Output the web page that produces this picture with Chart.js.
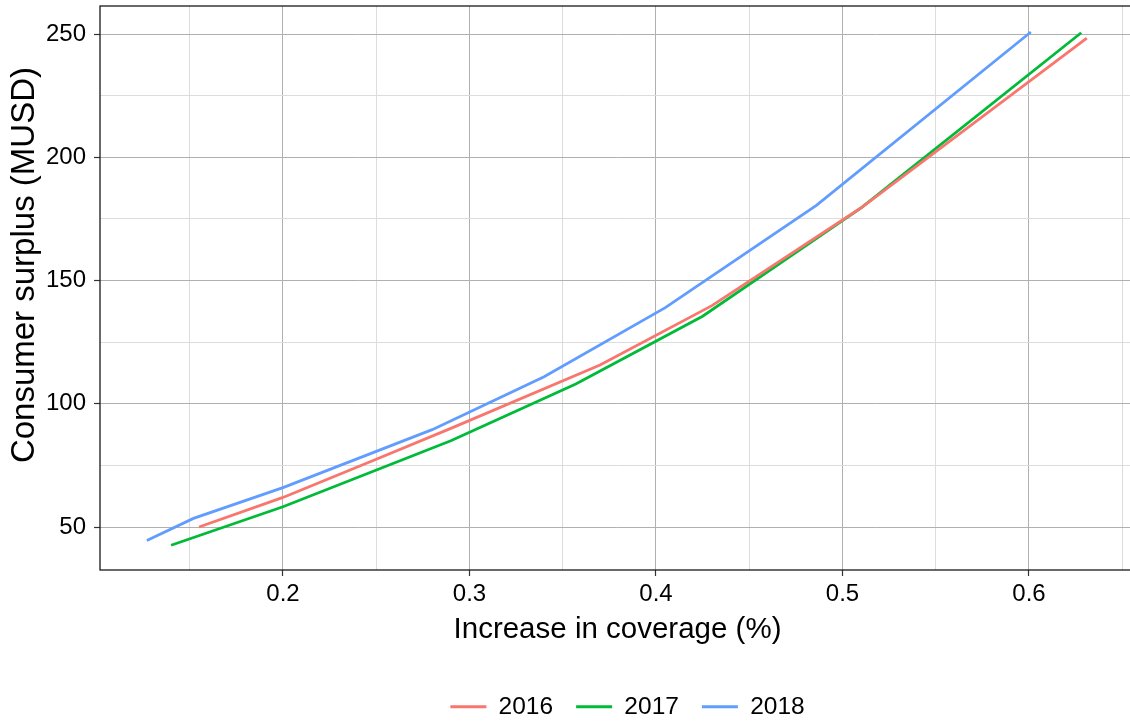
<!DOCTYPE html>
<html>
<head>
<meta charset="utf-8">
<script src="https://cdn.jsdelivr.net/npm/chart.js@4.4.1/dist/chart.umd.min.js"></script>
<style>
  html, body { margin: 0; padding: 0; background: #fff; overflow: hidden; }
  canvas { display: block; }
</style>
</head>
<body>
<canvas id="chart" width="1255" height="729" style="width:1255px;height:729px"></canvas>
<script>
  // ---- data ----
  const YEARS = ['2016', '2017', '2018'];
  const COLORS = ['#F8766D', '#00BA38', '#619CFF'];

  const X_2016 = [0.155, 0.2, 0.25, 0.29, 0.37, 0.43, 0.51, 0.631];
  const Y_2016 = [50, 62, 77.5, 90, 115.7, 139.8, 179.5, 248.3];

  const X_2017 = [0.14, 0.2, 0.29, 0.357, 0.425, 0.51, 0.628];
  const Y_2017 = [42.6, 58.2, 85, 108, 135.5, 179.5, 250.5];

  const X_2018 = [0.127, 0.152, 0.2, 0.28, 0.34, 0.405, 0.486, 0.601];
  const Y_2018 = [44.5, 53.5, 66, 89.5, 111, 139, 180.5, 250.8];

  const X_MAJOR = [0.2, 0.3, 0.4, 0.5, 0.6];
  const X_MINOR = [0.15, 0.25, 0.35, 0.45, 0.55, 0.65];
  const Y_MAJOR = [50, 100, 150, 200, 250];
  const Y_MINOR = [75, 125, 175, 225];

  const X_TITLE = 'Increase in coverage (%)';
  // leading spaces nudge the rotated title up a little, as in the reference
  const Y_TITLE = '\u00a0\u00a0\u00a0\u00a0\u00a0Consumer surplus (MUSD)';

  // ---- layout constants ----
  const CANVAS_H = 729;
  const PLOT_BOTTOM = 570;
  const FONT = 'Liberation Sans, Arial, Helvetica, sans-serif';
  const MAJOR_GRID = '#b0b0b0';
  const MINOR_GRID = '#dcdcdc';

  function toPoints(xs, ys) {
    return xs.map(function (x, i) { return { x: x, y: ys[i] }; });
  }

  function buildTicks(major, minor) {
    return major.concat(minor)
      .sort(function (a, b) { return a - b; })
      .map(function (v) { return { value: v, isMajor: major.indexOf(v) >= 0 }; });
  }

  function gridColor(c) {
    return c.tick && c.tick.isMajor ? MAJOR_GRID : MINOR_GRID;
  }
  function tickColor(c) {
    return c.tick && c.tick.isMajor ? '#333333' : 'rgba(0,0,0,0)';
  }
  function noPadding(axis) {
    axis.paddingTop = 0;
    axis.paddingBottom = 0;
    axis.paddingLeft = 0;
    axis.paddingRight = 0;
  }

  // panel border drawn over the data, like ggplot
  const panelBorder = {
    id: 'panelBorder',
    afterDatasetsDraw: function (chart) {
      const a = chart.chartArea;
      const ctx = chart.ctx;
      ctx.save();
      ctx.strokeStyle = '#1a1a1a';
      ctx.lineWidth = 1.3;
      ctx.strokeRect(a.left, a.top, a.right - a.left, a.bottom - a.top);
      ctx.restore();
    }
  };

  const seriesX = [X_2016, X_2017, X_2018];
  const seriesY = [Y_2016, Y_2017, Y_2018];

  const datasets = YEARS.map(function (year, i) {
    return {
      label: year,
      data: toPoints(seriesX[i], seriesY[i]),
      borderColor: COLORS[i],
      backgroundColor: COLORS[i],
      borderWidth: 2.8,
      pointRadius: 0,
      tension: 0,
      showLine: true,
      fill: false
    };
  });

  const ctx = document.getElementById('chart').getContext('2d');
  new Chart(ctx, {
    type: 'scatter',
    data: { datasets: datasets },
    plugins: [panelBorder],
    options: {
      responsive: false,
      animation: false,
      events: [],
      layout: { padding: { top: 6, left: 0, right: 0, bottom: 0 } },
      plugins: {
        tooltip: { enabled: false },
        legend: {
          display: true,
          position: 'bottom',
          labels: {
            color: '#000',
            font: { family: FONT, size: 24.5 },
            boxWidth: 36,
            boxHeight: 3,
            padding: 23,
            generateLabels: function (chart) {
              return chart.data.datasets.map(function (ds, i) {
                return {
                  text: ds.label,
                  fillStyle: ds.borderColor,
                  strokeStyle: ds.borderColor,
                  lineWidth: 0,
                  hidden: false,
                  datasetIndex: i
                };
              });
            }
          }
        }
      },
      scales: {
        x: {
          type: 'linear',
          position: 'bottom',
          min: 0.10188,
          max: 0.65684,
          afterBuildTicks: function (axis) { axis.ticks = buildTicks(X_MAJOR, X_MINOR); },
          afterFit: function (axis) {
            axis.height = CANVAS_H - PLOT_BOTTOM - axis.chart.legend.height;
            noPadding(axis);
          },
          ticks: {
            autoSkip: false,
            maxRotation: 0,
            padding: 4,
            color: '#000',
            font: { family: FONT, size: 24 },
            callback: function (v) { return X_MAJOR.indexOf(v) >= 0 ? v.toFixed(1) : ''; }
          },
          grid: { color: gridColor, lineWidth: 1, tickColor: tickColor, tickLength: 6, tickWidth: 1.2 },
          border: { display: false },
          title: {
            display: true,
            text: X_TITLE,
            color: '#000',
            font: { family: FONT, size: 29.5 },
            padding: { top: 4, bottom: 24 }
          }
        },
        y: {
          type: 'linear',
          position: 'left',
          min: 32.56,
          max: 261.36,
          afterBuildTicks: function (axis) { axis.ticks = buildTicks(Y_MAJOR, Y_MINOR); },
          afterFit: function (axis) {
            axis.width = 100;
            noPadding(axis);
          },
          ticks: {
            autoSkip: false,
            padding: 8,
            color: '#000',
            font: { family: FONT, size: 24 },
            callback: function (v) { return Y_MAJOR.indexOf(v) >= 0 ? String(v) : ''; }
          },
          grid: { color: gridColor, lineWidth: 1, tickColor: tickColor, tickLength: 6, tickWidth: 1.2 },
          border: { display: false },
          title: {
            display: true,
            text: Y_TITLE,
            color: '#000',
            font: { family: FONT, size: 33 },
            padding: { top: 5, bottom: 0 }
          }
        },
        // empty right-hand strip so the legend centres where the reference has it
        yr: {
          type: 'linear',
          position: 'right',
          display: true,
          afterFit: function (axis) {
            axis.width = 120;
            noPadding(axis);
          },
          ticks: { display: false },
          grid: { display: false, drawTicks: false },
          border: { display: false }
        }
      }
    }
  });
</script>
</body>
</html>
